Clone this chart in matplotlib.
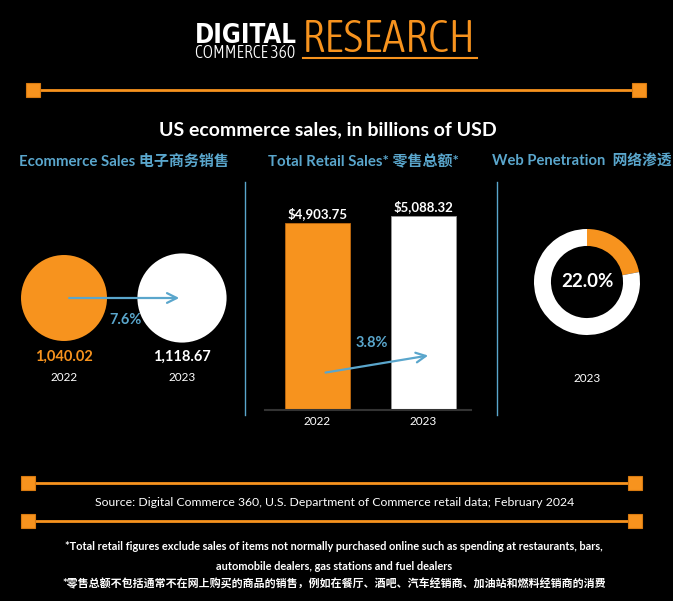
import matplotlib.pyplot as plt
from matplotlib import font_manager

# data
years = ['2022', '2023']
ecom_sales = [1040.02, 1118.67]
ecom_growth = '7.6%'
retail_sales = [4903.75, 5088.32]
retail_growth = '3.8%'
web_share = [22.0, 78.0]

ORANGE = '#f7931e'
BLUE = '#5aa6cc'
W, H = 673, 601

FONT = ['Lato', 'Noto Sans CJK SC', 'DejaVu Sans']
plt.rcParams['font.family'] = FONT


def find_font(words, want):
    # want: list of substrings to prefer in file name, in order
    cands = []
    for f in font_manager.fontManager.ttflist:
        label = f.name + ' ' + f.fname
        if not any(w in label for w in words):
            continue
        if f.style != 'normal' or 'Italic' in f.fname or 'Oblique' in f.fname:
            continue
        cands.append(f)
    for key in want:
        for f in cands:
            base = f.fname.split('/')[-1]
            if key in base:
                return font_manager.FontProperties(fname=f.fname)
    return None


narrow_bold = (find_font(['Narrow', 'Condensed'], ['Condensed-Bold', 'CondensedBold', 'Narrow-Bold', 'Bold'])
               or font_manager.FontProperties(family='DejaVu Sans', weight='bold'))
narrow_reg = (find_font(['Narrow', 'Condensed'], ['Condensed-Light', 'CondensedLight', 'Light', 'Condensed-Regular',
                                                  'CondensedRegular', 'Regular', 'Condensed.'])
              or font_manager.FontProperties(family='DejaVu Sans', weight='light'))

fig = plt.figure(figsize=(W / 100, H / 100), dpi=100, facecolor='black')
renderer = fig.canvas.get_renderer()

# background axes in pixel coordinates
bg = fig.add_axes([0, 0, 1, 1])
bg.set_xlim(0, W)
bg.set_ylim(H, 0)
bg.axis('off')


def px_axes(x0, y0, x1, y1):
    return fig.add_axes([x0 / W, 1 - y1 / H, (x1 - x0) / W, (y1 - y0) / H])


def fit_text(x, y, s, width, fp, size, **kw):
    # shrink / grow font so the text spans the given pixel width
    t = bg.text(x, y, s, fontproperties=fp, fontsize=size, ha='left', va='baseline', **kw)
    w = t.get_window_extent(renderer).width
    t.set_fontsize(size * width / w)
    return t


def rule(y, x0, x1):
    bg.plot([x0, x1], [y, y], color=ORANGE, lw=2, solid_capstyle='butt', zorder=2)
    bg.plot([x0, x1], [y, y], ls='none', marker='s', ms=10, mfc=ORANGE, mec='#d87a10', mew=0.8, zorder=3)


# logo
fit_text(195, 43, 'DIGITAL', 102, narrow_bold, 20, color='white')
fit_text(195, 58, 'COMMERCE 360', 101, narrow_reg, 10, color='white')
fit_text(302, 52, 'RESEARCH', 174, narrow_reg, 28, color=ORANGE)
bg.plot([303, 477], [58, 58], color=ORANGE, lw=1.5)

rule(90, 33, 639)
rule(483, 28, 635)
rule(521, 28, 635)

bg.text(328, 130, 'US ecommerce sales, in billions of USD', color='white', fontsize=14, fontweight='bold', ha='center', va='center')
bg.text(124, 162, 'Ecommerce Sales 电子商务销售', color=BLUE, fontsize=10.8, fontweight='bold', ha='center', va='center')
bg.text(363, 162, 'Total Retail Sales* 零售总额*', color=BLUE, fontsize=10.8, fontweight='bold', ha='center', va='center')
bg.text(582, 162, 'Web Penetration  网络渗透', color=BLUE, fontsize=10.6, fontweight='bold', ha='center', va='center')

for x in (245, 497):
    bg.plot([x, x], [182, 415], color=BLUE, lw=1)

bg.text(335, 503, 'Source: Digital Commerce 360, U.S. Department of Commerce retail data; February 2024',
        color='white', fontsize=8.8, ha='center', va='center')
bg.text(334, 547, '*Total retail figures exclude sales of items not normally purchased online such as spending at restaurants, bars,',
        color='white', fontsize=7.9, fontweight='bold', ha='center', va='center')
bg.text(334, 566, 'automobile dealers, gas stations and fuel dealers',
        color='white', fontsize=7.9, fontweight='bold', ha='center', va='center')
bg.text(334, 584, '*零售总额不包括通常不在网上购买的商品的销售，例如在餐厅、酒吧、汽车经销商、加油站和燃料经销商的消费',
        color='white', fontsize=7.9, fontweight='bold', ha='center', va='center')

# ecommerce circles (area proportional to value)
ax1 = px_axes(5, 230, 241, 392)
ax1.set_xlim(-0.5, 1.5)
ax1.set_ylim(392, 230)
ax1.axis('off')
k = 3.685
ax1.scatter([0, 1], [298, 298], s=[v * k for v in ecom_sales], c=[ORANGE, 'white'], edgecolors='none', zorder=1)
ax1.annotate('', xy=(1.0, 298), xytext=(0.02, 298),
             arrowprops=dict(arrowstyle='->,head_length=0.7,head_width=0.35', color=BLUE, lw=1.6), zorder=3)
ax1.text(0.52, 320, ecom_growth, color=BLUE, fontsize=10.5, fontweight='bold', ha='center', va='center')
for i, (v, c) in enumerate(zip(ecom_sales, [ORANGE, 'white'])):
    ax1.text(i, 357, f'{v:,.2f}', color=c, fontsize=10.5, fontweight='bold', ha='center', va='center')
    ax1.text(i, 378, years[i], color='white', fontsize=8.5, ha='center', va='center')

# retail bars
ax2 = px_axes(264.5, 195, 471.2, 410)
ax2.set_facecolor('black')
ax2.set_xlim(-0.5, 1.45)
ax2.set_ylim(0, 4903.75 * 215 / 187)
ax2.bar([0, 1], retail_sales, width=0.613, color=[ORANGE, 'white'], edgecolor=['#c06a10', '#999999'], lw=0.6)
for i, v in enumerate(retail_sales):
    ax2.text(i, v + 80, f'${v:,.2f}', color='white', fontsize=9.5, fontweight='bold', ha='center', va='bottom')
for s in ('top', 'right', 'left'):
    ax2.spines[s].set_visible(False)
ax2.spines['bottom'].set_color('#333333')
ax2.spines['bottom'].set_linewidth(1.5)
ax2.set_yticks([])
ax2.set_xticks([0, 1])
ax2.set_xticklabels(years, color='white', fontsize=8.5)
ax2.tick_params(axis='x', length=0, pad=4)
ax2.annotate('', xy=(1.07, 1440), xytext=(0.05, 970),
             arrowprops=dict(arrowstyle='->,head_length=0.7,head_width=0.35', color=BLUE, lw=1.6))
ax2.text(0.51, 1760, retail_growth, color=BLUE, fontsize=10.5, fontweight='bold', ha='center', va='center')

# web penetration donut
ax3 = px_axes(534, 229, 640, 335)
ax3.pie(web_share, colors=[ORANGE, 'white'], startangle=90, counterclock=False,
        wedgeprops=dict(width=0.32, edgecolor='none'))
ax3.set_xlim(-1, 1)
ax3.set_ylim(-1, 1)
ax3.text(0, 0, f'{web_share[0]:.1f}%', color='white', fontsize=13.5, fontweight='bold', ha='center', va='center')
bg.text(587, 378, '2023', color='white', fontsize=8.5, ha='center', va='center')

fig.savefig('out.png', dpi=100, facecolor='black')
